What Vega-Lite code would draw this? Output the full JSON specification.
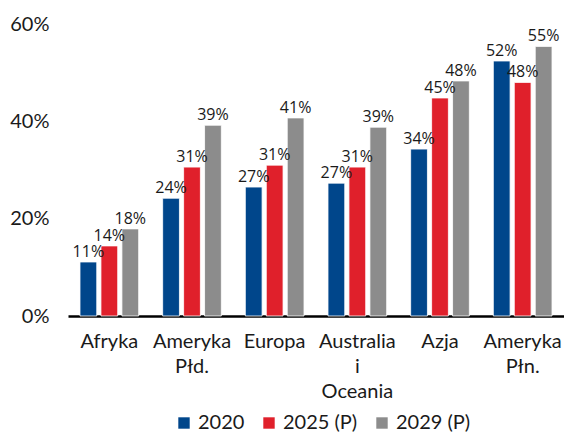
{
  "$schema": "https://vega.github.io/schema/vega-lite/v6.json",
  "width": 496,
  "height": 292,
  "autosize": "none",
  "padding": {"left": 68, "right": 0, "top": 24, "bottom": 120},
  "background": "white",
  "data": {
    "values": [
      {"region": "Afryka", "series": "2020", "value": 0.111},
      {"region": "Afryka", "series": "2025 (P)", "value": 0.144},
      {"region": "Afryka", "series": "2029 (P)", "value": 0.179},
      {"region": "Ameryka|Płd.", "series": "2020", "value": 0.242},
      {"region": "Ameryka|Płd.", "series": "2025 (P)", "value": 0.306},
      {"region": "Ameryka|Płd.", "series": "2029 (P)", "value": 0.392},
      {"region": "Europa", "series": "2020", "value": 0.265},
      {"region": "Europa", "series": "2025 (P)", "value": 0.31},
      {"region": "Europa", "series": "2029 (P)", "value": 0.407},
      {"region": "Australia|i|Oceania", "series": "2020", "value": 0.273},
      {"region": "Australia|i|Oceania", "series": "2025 (P)", "value": 0.306},
      {"region": "Australia|i|Oceania", "series": "2029 (P)", "value": 0.388},
      {"region": "Azja", "series": "2020", "value": 0.343},
      {"region": "Azja", "series": "2025 (P)", "value": 0.448},
      {"region": "Azja", "series": "2029 (P)", "value": 0.483},
      {"region": "Ameryka|Płn.", "series": "2020", "value": 0.524},
      {"region": "Ameryka|Płn.", "series": "2025 (P)", "value": 0.48},
      {"region": "Ameryka|Płn.", "series": "2029 (P)", "value": 0.554}
    ]
  },
  "encoding": {
    "x": {
      "field": "region",
      "type": "nominal",
      "sort": null,
      "scale": {"paddingInner": 0.29, "paddingOuter": 0.145},
      "axis": {
        "title": null,
        "labelAngle": 0,
        "labelExpr": "split(datum.label, '|')",
        "labelFont": "Lato",
        "labelFontSize": 20,
        "labelColor": "#1a1a1a",
        "labelLineHeight": 25,
        "labelPadding": 15,
        "ticks": false,
        "domainColor": "#000000",
        "domainWidth": 2.5
      }
    },
    "xOffset": {"field": "series", "type": "nominal", "scale": {"paddingInner": 0.2}},
    "y": {
      "field": "value",
      "type": "quantitative",
      "scale": {"domain": [0, 0.6], "nice": false},
      "axis": {
        "title": null,
        "values": [0, 0.2, 0.4, 0.6],
        "format": ".0%",
        "grid": false,
        "domain": false,
        "ticks": false,
        "labelFont": "Lato",
        "labelFontSize": 20,
        "labelColor": "#1a1a1a",
        "labelPadding": 19
      }
    }
  },
  "layer": [
    {
      "mark": {"type": "bar", "stroke": "white", "strokeWidth": 0.8},
      "encoding": {
        "color": {
          "field": "series",
          "type": "nominal",
          "scale": {"domain": ["2020", "2025 (P)", "2029 (P)"], "range": ["#00468B", "#E0202B", "#8C8C8C"]},
          "legend": {
            "title": null,
            "orient": "none",
            "legendX": 106,
            "legendY": 389,
            "direction": "horizontal",
            "symbolType": "square",
            "symbolSize": 130,
            "symbolStrokeWidth": 0,
            "labelFont": "Lato",
            "labelFontSize": 20,
            "labelColor": "#1a1a1a",
            "columnPadding": 14,
            "labelOffset": 4
          }
        }
      }
    },
    {
      "mark": {"type": "text", "dy": -5, "baseline": "alphabetic", "font": "Open Sans", "fontSize": 16, "color": "#1a1a1a"},
      "encoding": {
        "text": {"field": "value", "type": "quantitative", "format": ".0%"}
      }
    }
  ],
  "config": {"view": {"stroke": null}}
}
